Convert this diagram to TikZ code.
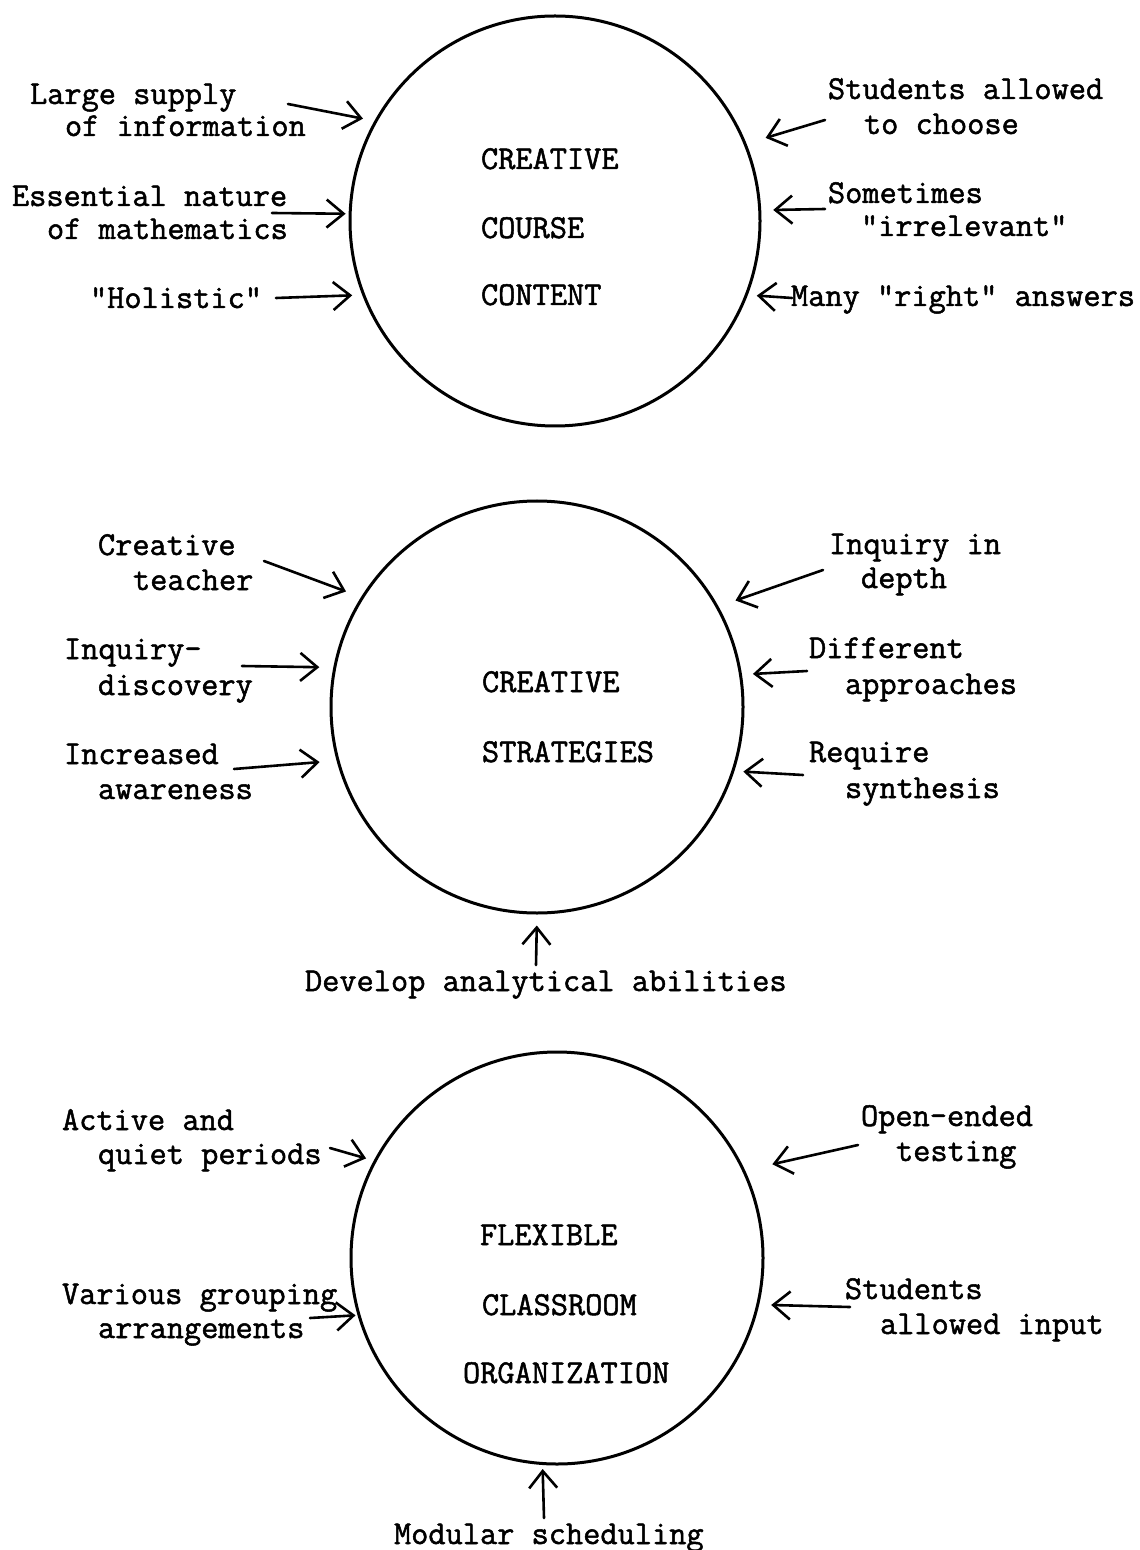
\documentclass[tikz,border=0pt]{standalone}
\usepackage{fontspec}
\newfontfamily\tw{Latin Modern Mono}[FakeBold=1.5]
\usetikzlibrary{arrows.meta}
\begin{document}
\begin{tikzpicture}[x=0.5pt,y=-0.5pt,
  lbl/.style={font=\tw\fontsize{16.7}{16.7}\selectfont, anchor=base west, inner sep=0pt, outer sep=0pt},
  ring/.style={circle, draw, line width=1.5pt, inner sep=0pt},
  arr/.style={-{Straight Barb[length=8.5pt,width=14pt]}, line width=1.3pt, line cap=round}]
\useasboundingbox (0,0) rectangle (1139,1550);

% circles
\node[ring, minimum size=205pt] (c1) at (555,221) {};
\node[ring, minimum size=206pt] (c2) at (537,707) {};
\node[ring, minimum size=206pt] (c3) at (557,1258) {};

% ---------- top ----------
\node[lbl] (l1a) at (30,104) {Large supply};
\node[lbl] (l1b) at (65,136) {of information};
\node[lbl] (l2a) at (12,206) {Essential nature};
\node[lbl] (l2b) at (47,239) {of mathematics};
\node[lbl] (l3) at (90,308) {"Holistic"};
\node[lbl] (r1a) at (828,99) {Students allowed};
\node[lbl] (r1b) at (864,134) {to choose};
\node[lbl] (r2a) at (828,203) {Sometimes};
\node[lbl] (r2b) at (861,236) {"irrelevant"};
\node[lbl] (r3) at (791,306) {Many "right" answers};
\node[lbl] (t1) at (481,169) {CREATIVE};
\node[lbl] (t2) at (481,238) {COURSE};
\node[lbl] (t3) at (481,305) {CONTENT};

% ---------- middle ----------
\node[lbl] (m1a) at (98,555) {Creative};
\node[lbl] (m1b) at (133,590) {teacher};
\node[lbl] (m2a) at (64,659) {Inquiry-};
\node[lbl] (m2b) at (98,695) {discovery};
\node[lbl] (m3a) at (64,764) {Increased};
\node[lbl] (m3b) at (98,799) {awareness};
\node[lbl] (n1a) at (829,554) {Inquiry in};
\node[lbl] (n1b) at (861,588) {depth};
\node[lbl] (n2a) at (809,658) {Different};
\node[lbl] (n2b) at (845,694) {approaches};
\node[lbl] (n3a) at (809,762) {Require};
\node[lbl] (n3b) at (845,798) {synthesis};
\node[lbl] (s1) at (482,692) {CREATIVE};
\node[lbl] (s2) at (482,762) {STRATEGIES};
\node[lbl] (d1) at (305,991) {Develop analytical abilities};

% ---------- bottom ----------
\node[lbl] (b1a) at (62,1130) {Active and};
\node[lbl] (b1b) at (98,1164) {quiet periods};
\node[lbl] (b2a) at (62,1304) {Various grouping};
\node[lbl] (b2b) at (98,1338) {arrangements};
\node[lbl] (e1a) at (861,1126) {Open-ended};
\node[lbl] (e1b) at (896,1161) {testing};
\node[lbl] (e2a) at (845,1299) {Students};
\node[lbl] (e2b) at (880,1334) {allowed input};
\node[lbl] (f1) at (480,1245) {FLEXIBLE};
\node[lbl] (f2) at (482,1315) {CLASSROOM};
\node[lbl] (f3) at (463,1383) {ORGANIZATION};
\node[lbl] (g1) at (394,1544) {Modular scheduling};

% arrow start points
\coordinate (a1) at (288,104);
\coordinate (a2) at (272,213);
\coordinate (a3) at (276,298);
\coordinate (a4) at (825,120);
\coordinate (a5) at (825,209);
\coordinate (a6) at (792,298);
\coordinate (a7) at (264,561);
\coordinate (a8) at (242,666);
\coordinate (a9) at (234,769);
\coordinate (a10) at (823,570);
\coordinate (a11) at (807,671);
\coordinate (a12) at (803,775);
\coordinate (a13) at (536,965);
\coordinate (a14) at (330,1148);
\coordinate (a15) at (310,1318);
\coordinate (a16) at (858,1145);
\coordinate (a17) at (850,1307);
\coordinate (a18) at (544,1518);

% arrows
\draw[arr, shorten >=5.8pt] (a1) -- (c1.151);
\draw[arr, shorten >=1.5pt] (a2) -- (c1.178);
\draw[arr, shorten >=5pt] (a3) -- (c1.201);
\draw[arr, shorten >=10pt] (a4) -- (c1.22);
\draw[arr, shorten >=6pt] (a5) -- (c1.3);
\draw[arr, shorten >=4.5pt] (a6) -- (c1.339);
\draw[arr, shorten >=8pt] (a7) -- (c2.148);
\draw[arr, shorten >=7pt] (a8) -- (c2.169);
\draw[arr, shorten >=8.5pt] (a9) -- (c2.195);
\draw[arr, shorten >=9pt] (a10) -- (c2.29);
\draw[arr, shorten >=5.5pt] (a11) -- (c2.9);
\draw[arr, shorten >=4.5pt] (a12) -- (c2.342);
\draw[arr, shorten >=5.5pt] (a13) -- (c2.270);
\draw[arr, shorten >=4pt] (a14) -- (c3.152);
\draw[arr, shorten >=1pt] (a15) -- (c3.196);
\draw[arr, shorten >=14pt] (a16) -- (c3.25);
\draw[arr, shorten >=6pt] (a17) -- (c3.347);
\draw[arr, shorten >=2pt] (a18) -- (c3.266);
\end{tikzpicture}
\end{document}
